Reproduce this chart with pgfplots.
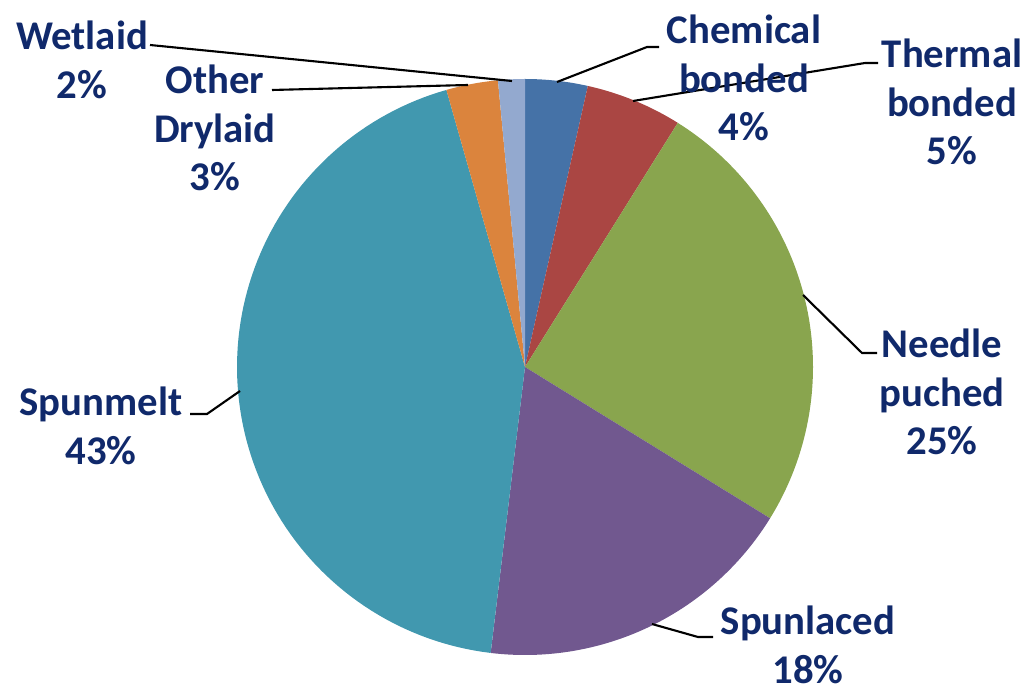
\documentclass[border=0pt]{standalone}
\usepackage{fontspec}
\setmainfont{Carlito}
\usepackage{pgfplots}
\pgfplotsset{compat=1.18}
\definecolor{cChem}{HTML}{4572A7}
\definecolor{cTherm}{HTML}{AA4643}
\definecolor{cNeedle}{HTML}{89A54E}
\definecolor{cSplace}{HTML}{71588F}
\definecolor{cSmelt}{HTML}{4198AF}
\definecolor{cOther}{HTML}{DB843D}
\definecolor{cWet}{HTML}{93A9CF}
\definecolor{txt}{HTML}{10296B}
\tikzset{lbl/.style={font=\bfseries\fontsize{11.6}{13.9}\selectfont, text=txt, align=center, inner sep=0pt}}
% slice: #1 = cumulative share before the slice (%), #2 = share (%), #3 = colour
\newcommand\slice[3]{%
  \pgfmathsetmacro\aS{90-3.6*(#1)}%
  \pgfmathsetmacro\aE{90-3.6*(#1+#2)}%
  \edef\tmp{\noexpand\addplot[fill=#3, draw=none, domain=\aE:\aS, samples=100]
    ({525+288*cos(x)},{325+288*sin(x)}) -- (axis cs:525,325) -- cycle;}\tmp
}
\begin{document}
\begin{tikzpicture}
\begin{axis}[
  width=10.28cm, height=6.92cm, scale only axis,
  xmin=0, xmax=1028, ymin=0, ymax=692,
  hide axis, clip=false,
]
% shares in %: Chemical 3.5, Thermal 5.4, Needle 24.9, Spunlaced 18.1, Spunmelt 43.7, Other 2.9, Wetlaid 1.5
\slice{0}{3.5}{cChem}
\slice{3.5}{5.4}{cTherm}
\slice{8.9}{24.9}{cNeedle}
\slice{33.8}{18.1}{cSplace}
\slice{51.9}{43.7}{cSmelt}
\slice{95.6}{2.9}{cOther}
\slice{98.5}{1.5}{cWet}
% leader lines
\addplot[black, line width=0.6pt] coordinates {(150,647) (512,611)};
\addplot[black, line width=0.6pt] coordinates {(272,602) (468,607)};
\addplot[black, line width=0.6pt] coordinates {(659,645) (647,645) (557,610)};
\addplot[black, line width=0.6pt] coordinates {(878,629) (865,629) (633,591)};
\addplot[black, line width=0.6pt] coordinates {(877,339) (862,339) (803,397)};
\addplot[black, line width=0.6pt] coordinates {(713,55) (698,55) (652,68)};
\addplot[black, line width=0.6pt] coordinates {(190,278) (207,278) (240,301)};
% labels
\node[lbl] at (axis cs:744,614) {Chemical\\bonded\\4\%};
\node[lbl] at (axis cs:952,590) {Thermal\\bonded\\5\%};
\node[lbl] at (axis cs:942,300) {Needle\\puched\\25\%};
\node[lbl] at (axis cs:808,47) {Spunlaced\\18\%};
\node[lbl] at (axis cs:101,266) {Spunmelt\\43\%};
\node[lbl] at (axis cs:215,564) {Other\\Drylaid\\3\%};
\node[lbl] at (axis cs:82,632) {Wetlaid\\2\%};
\end{axis}
\pgfresetboundingbox
\path (current axis.south west) rectangle (current axis.north east);
\end{tikzpicture}
\end{document}
